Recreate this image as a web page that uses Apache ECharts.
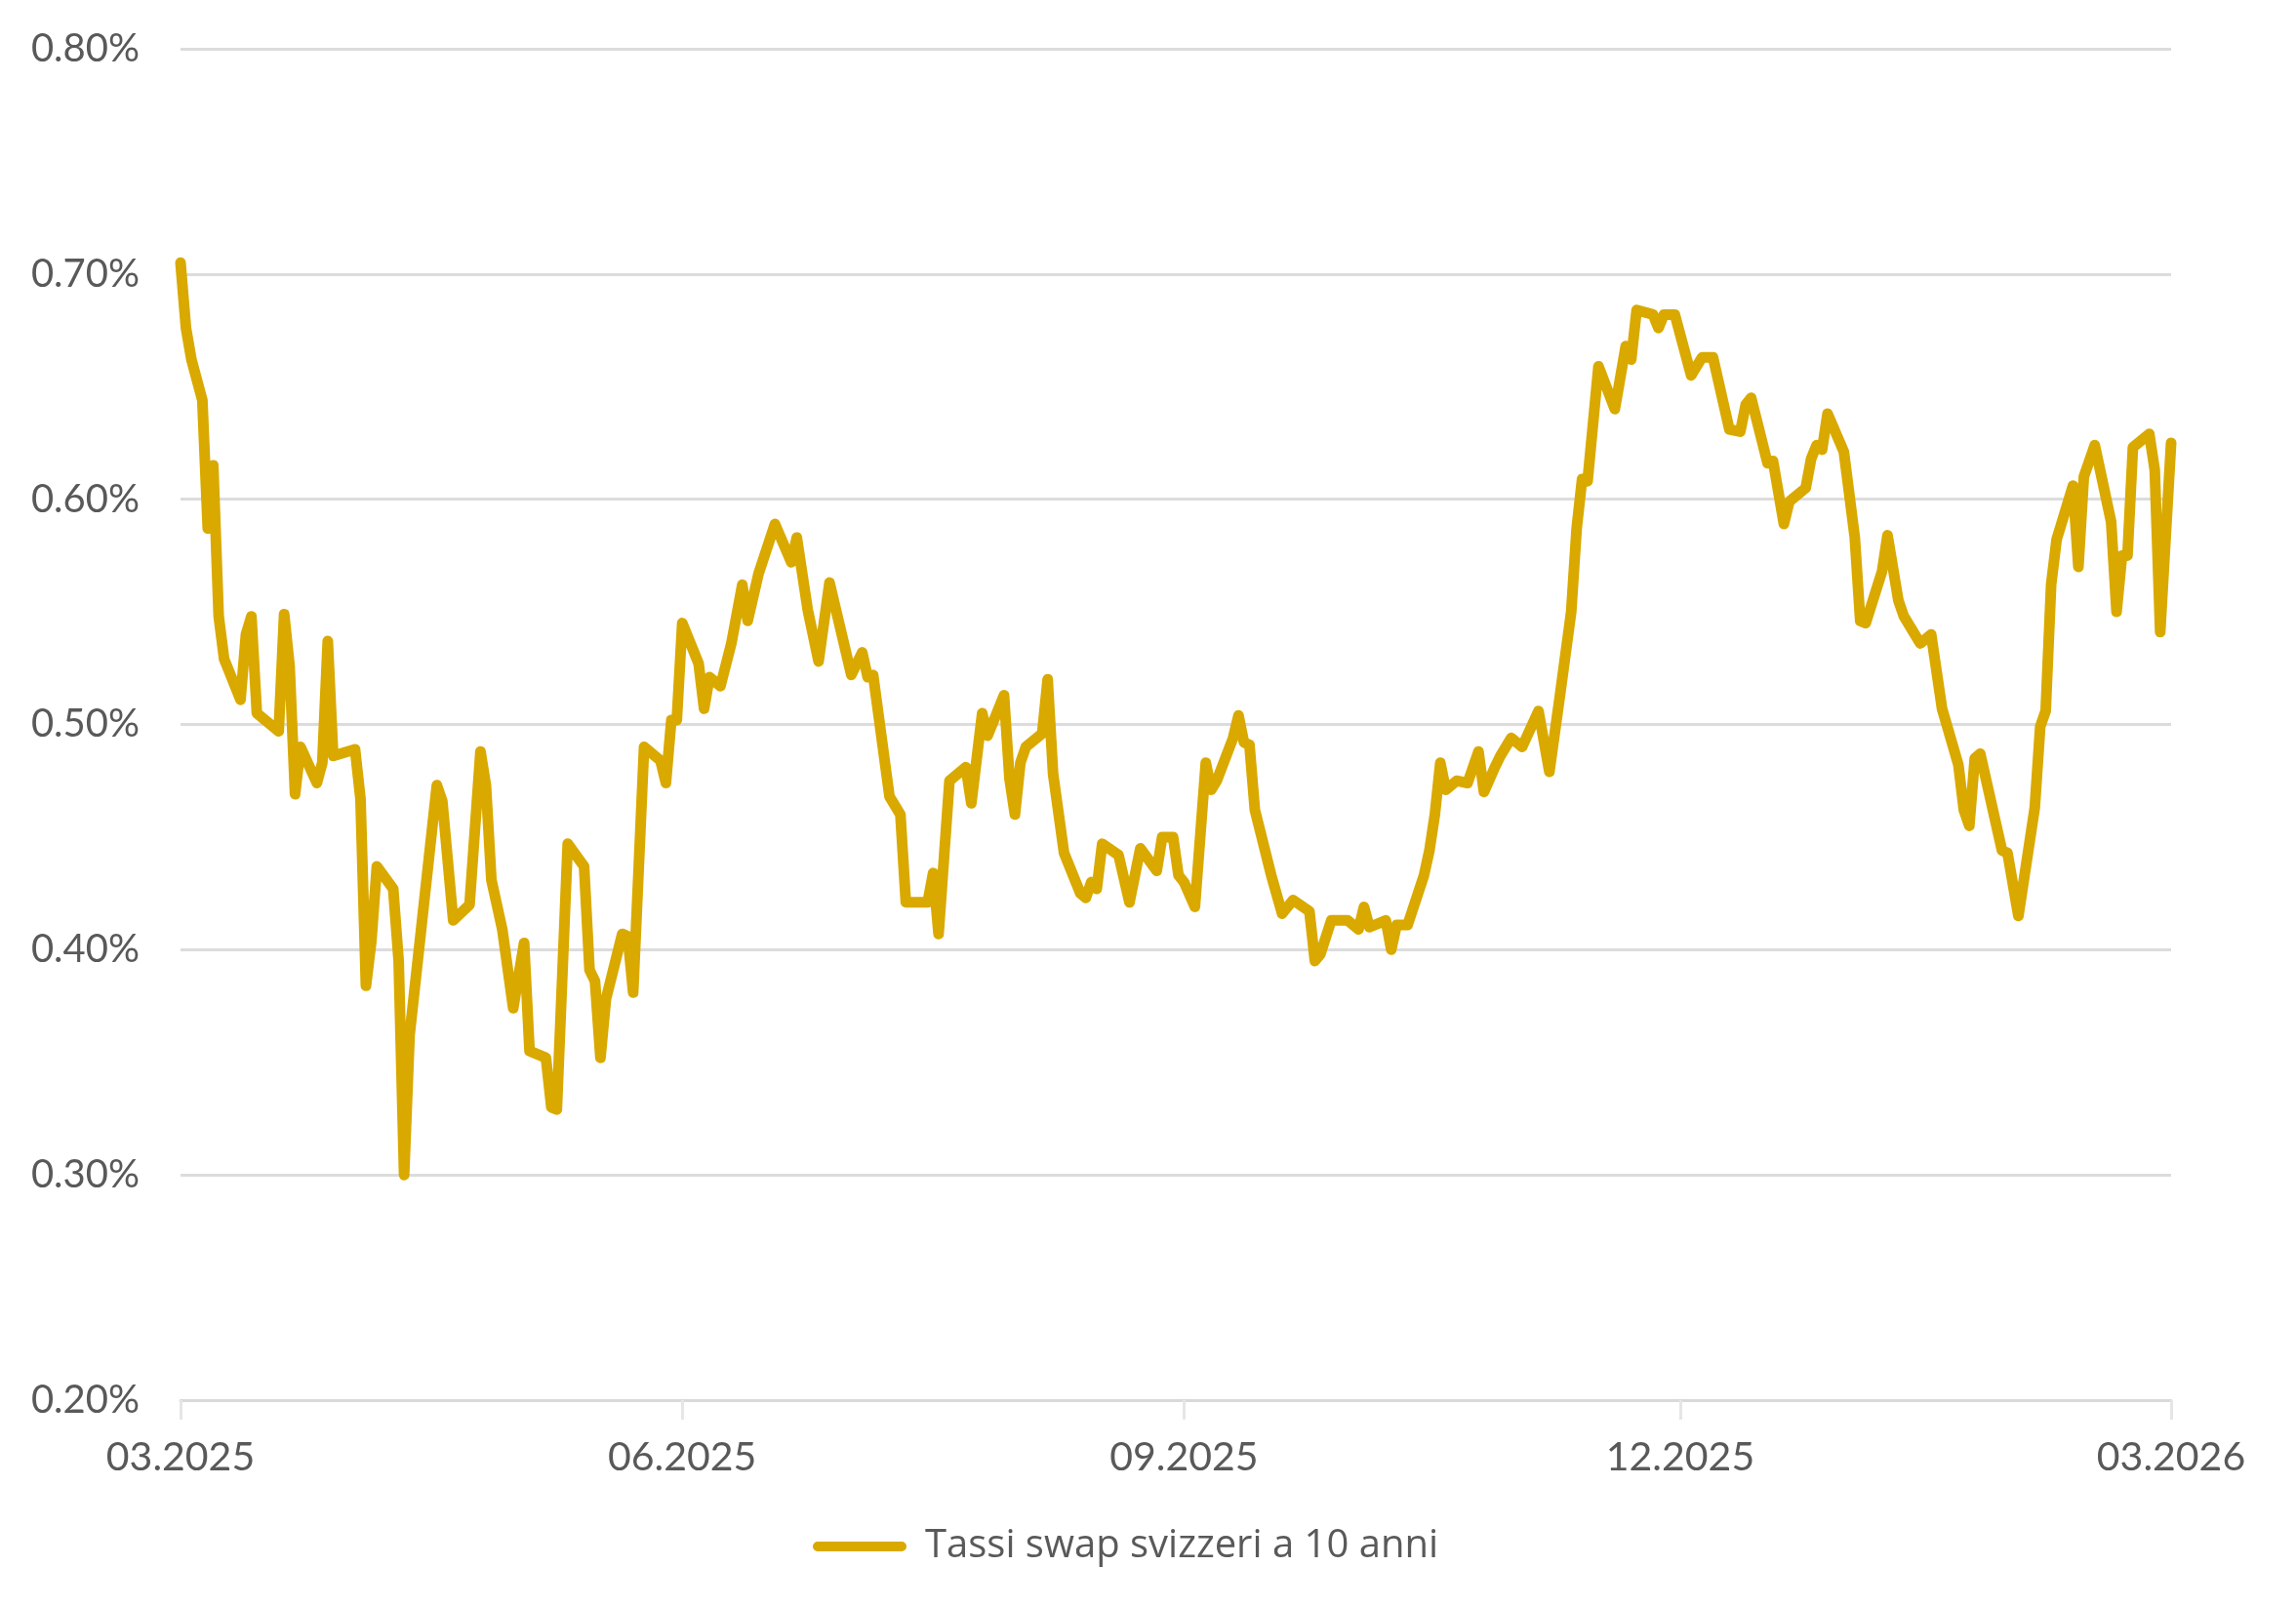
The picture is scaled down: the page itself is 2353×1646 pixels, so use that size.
<!DOCTYPE html>
<html>
<head>
<meta charset="utf-8">
<script src="https://cdn.jsdelivr.net/npm/echarts@6/dist/echarts.min.js"></script>
<style>
html,body{margin:0;padding:0;background:#fff;}
#chart{width:2353px;height:1646px;}
</style>
</head>
<body>
<div id="chart"></div>
<script>
const seriesName = 'Tassi swap svizzeri a 10 anni';
const tickDates = ['2025-03-01','2025-06-01','2025-09-01','2025-12-01','2026-03-01'];
const yTicks = [0.2, 0.3, 0.4, 0.5, 0.6, 0.7, 0.8];

const dates = [
'2025-03-01','2025-03-02','2025-03-03','2025-03-05','2025-03-06','2025-03-07','2025-03-08','2025-03-09',
'2025-03-12','2025-03-13','2025-03-14','2025-03-15','2025-03-19','2025-03-20','2025-03-21','2025-03-22',
'2025-03-23','2025-03-26','2025-03-27','2025-03-28','2025-03-29','2025-04-02','2025-04-03','2025-04-04',
'2025-04-05','2025-04-06','2025-04-09','2025-04-10','2025-04-11','2025-04-12','2025-04-17','2025-04-18',
'2025-04-20','2025-04-23','2025-04-25','2025-04-26','2025-04-27','2025-04-29','2025-05-01','2025-05-03',
'2025-05-04','2025-05-07','2025-05-08','2025-05-09','2025-05-11','2025-05-14','2025-05-15','2025-05-16',
'2025-05-17','2025-05-18','2025-05-21','2025-05-22','2025-05-23','2025-05-25','2025-05-28','2025-05-29',
'2025-05-30','2025-05-31','2025-06-01','2025-06-04','2025-06-05','2025-06-06','2025-06-08','2025-06-10',
'2025-06-12','2025-06-13','2025-06-15','2025-06-18','2025-06-21','2025-06-22','2025-06-24','2025-06-26',
'2025-06-28','2025-07-02','2025-07-04','2025-07-05','2025-07-06','2025-07-09','2025-07-11','2025-07-12',
'2025-07-16','2025-07-17','2025-07-18','2025-07-20','2025-07-23','2025-07-24','2025-07-26','2025-07-27',
'2025-07-30','2025-07-31','2025-08-01','2025-08-02','2025-08-03','2025-08-06','2025-08-07','2025-08-08',
'2025-08-10','2025-08-13','2025-08-14','2025-08-15','2025-08-16','2025-08-17','2025-08-20','2025-08-22',
'2025-08-24','2025-08-27','2025-08-28','2025-08-30','2025-08-31','2025-09-01','2025-09-03','2025-09-05',
'2025-09-06','2025-09-07','2025-09-10','2025-09-11','2025-09-12','2025-09-13','2025-09-14','2025-09-17',
'2025-09-19','2025-09-21','2025-09-24','2025-09-25','2025-09-26','2025-09-28','2025-10-01','2025-10-03',
'2025-10-04','2025-10-05','2025-10-08','2025-10-09','2025-10-10','2025-10-12','2025-10-15','2025-10-16',
'2025-10-17','2025-10-18','2025-10-19','2025-10-21','2025-10-23','2025-10-25','2025-10-26','2025-10-28',
'2025-10-29','2025-10-31','2025-11-02','2025-11-05','2025-11-07','2025-11-09','2025-11-11','2025-11-12',
'2025-11-13','2025-11-14','2025-11-16','2025-11-19','2025-11-21','2025-11-22','2025-11-23','2025-11-26',
'2025-11-27','2025-11-28','2025-11-30','2025-12-03','2025-12-05','2025-12-07','2025-12-10','2025-12-12',
'2025-12-13','2025-12-14','2025-12-17','2025-12-18','2025-12-20','2025-12-21','2025-12-24','2025-12-25',
'2025-12-26','2025-12-27','2025-12-28','2025-12-31','2026-01-02','2026-01-03','2026-01-04','2026-01-07',
'2026-01-08','2026-01-10','2026-01-11','2026-01-14','2026-01-16','2026-01-18','2026-01-21','2026-01-22',
'2026-01-23','2026-01-24','2026-01-25','2026-01-29','2026-01-30','2026-02-01','2026-02-04','2026-02-05',
'2026-02-06','2026-02-07','2026-02-08','2026-02-11','2026-02-12','2026-02-13','2026-02-15','2026-02-18',
'2026-02-19','2026-02-20','2026-02-21','2026-02-22','2026-02-25','2026-02-26','2026-02-27','2026-03-01'
];

const rates = [
0.705,0.676,0.662,0.644,0.587,0.615,0.548,0.529,
0.511,0.540,0.548,0.505,0.497,0.549,0.526,0.469,
0.490,0.474,0.483,0.537,0.486,0.489,0.467,0.384,
0.404,0.437,0.427,0.395,0.300,0.362,0.473,0.466,
0.413,0.420,0.488,0.473,0.431,0.409,0.374,0.403,
0.355,0.352,0.330,0.329,0.447,0.437,0.391,0.386,
0.352,0.378,0.407,0.406,0.381,0.490,0.484,0.474,
0.502,0.502,0.545,0.527,0.507,0.521,0.517,0.536,
0.562,0.546,0.567,0.589,0.572,0.583,0.551,0.528,
0.563,0.522,0.532,0.521,0.522,0.468,0.460,0.421,
0.421,0.434,0.407,0.475,0.481,0.465,0.505,0.495,
0.513,0.476,0.460,0.483,0.490,0.496,0.520,0.478,
0.443,0.425,0.423,0.430,0.427,0.447,0.442,0.421,
0.445,0.435,0.450,0.450,0.433,0.430,0.419,0.483,
0.471,0.475,0.494,0.504,0.492,0.491,0.462,0.433,
0.416,0.422,0.417,0.395,0.398,0.413,0.413,0.409,
0.419,0.410,0.413,0.400,0.411,0.411,0.433,0.444,
0.460,0.483,0.471,0.475,0.474,0.488,0.470,0.481,
0.486,0.494,0.490,0.506,0.479,0.514,0.550,0.587,
0.609,0.608,0.659,0.640,0.668,0.662,0.684,0.682,
0.676,0.682,0.682,0.655,0.663,0.663,0.631,0.630,
0.642,0.645,0.616,0.617,0.589,0.599,0.605,0.618,
0.624,0.622,0.638,0.621,0.583,0.546,0.545,0.568,
0.584,0.555,0.548,0.536,0.540,0.507,0.482,0.462,
0.455,0.485,0.487,0.444,0.443,0.415,0.463,0.499,
0.506,0.562,0.582,0.606,0.570,0.610,0.624,0.590,
0.550,0.575,0.575,0.623,0.629,0.613,0.541,0.625
];

function toTime(s){
  const p = s.split('-').map(Number);
  return Date.UTC(p[0], p[1]-1, p[2]);
}
function pad(n){ return (n<10?'0':'')+n; }

const lineData = dates.map((d,i)=>[toTime(d), rates[i]]);
const tickTimes = tickDates.map(toTime);

const chart = echarts.init(document.getElementById('chart'), null, {renderer:'canvas'});
chart.setOption({
  animation:false,
  backgroundColor:'#ffffff',
  grid:{left:185, right:128, top:50, bottom:211, containLabel:false},
  legend:{
    left:828, top:1560,
    itemWidth:96, itemHeight:11, itemGap:16,
    icon:'path://M5,0 H93 A5,5 0 0 1 93,10 H5 A5,5 0 0 1 5,0 Z',
    textStyle:{fontFamily:'Open Sans', fontSize:40, color:'#595959', padding:[0,0,0,14]},
    data:[seriesName]
  },
  xAxis:{
    type:'value',
    min:tickTimes[0], max:tickTimes[tickTimes.length-1],
    axisLine:{show:true, lineStyle:{color:'#d9d9d9', width:3}},
    axisTick:{show:true, length:20, lineStyle:{color:'#e6e6e6', width:3}, customValues:tickTimes},
    splitLine:{show:false},
    axisLabel:{
      customValues:tickTimes,
      margin:38,
      fontFamily:'Lato', fontSize:41, color:'#595959',
      formatter:function(v){ const d=new Date(v); return pad(d.getUTCMonth()+1)+'.'+d.getUTCFullYear(); }
    }
  },
  yAxis:{
    type:'value',
    min:yTicks[0], max:yTicks[yTicks.length-1], interval:0.1,
    axisLine:{show:false}, axisTick:{show:false},
    splitLine:{show:true, lineStyle:{color:'#dcdcdc', width:3}},
    axisLabel:{
      margin:42,
      fontFamily:'Lato', fontSize:40, color:'#595959',
      formatter:function(v){ return v.toFixed(2)+'%'; }
    }
  },
  series:[{
    name:seriesName,
    type:'line',
    data:lineData,
    showSymbol:false,
    symbol:'none',
    clip:false,
    color:'#D9A900',
    lineStyle:{color:'#D9A900', width:11, join:'round', cap:'round'}
  }]
});
</script>
</body>
</html>
